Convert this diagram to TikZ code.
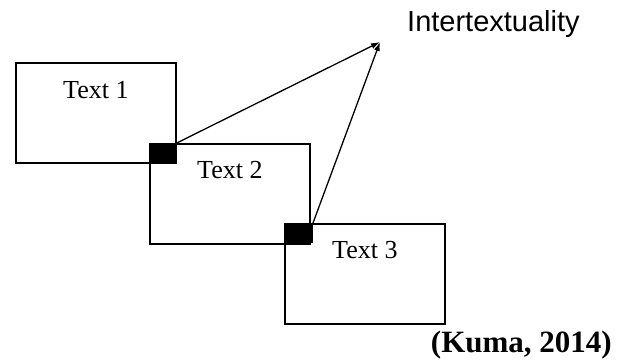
\documentclass[tikz,border=0pt]{standalone}
\usepackage{fontspec}
\setmainfont{Liberation Serif}
\newfontfamily\arialfont{Liberation Sans}
\usepackage{tikz}
\usetikzlibrary{calc, positioning, arrows.meta}

\tikzset{
    textbox/.style={draw, line width=1.8pt, minimum width=160pt, minimum height=100pt,
        inner sep=0pt, anchor=north west},
    joint/.style={fill=black, inner sep=0pt, minimum width=26pt, minimum height=20pt,
        anchor=north east},
    boxlabel/.style={anchor=base, font=\fontsize{26}{30}\selectfont}
}

\begin{document}
\begin{tikzpicture}[>={Latex[length=9pt, width=6pt]}, x=1pt, y=-1pt]
                \useasboundingbox (0,0) rectangle (623,361);

                % 1. Ba khung van ban
                \node[textbox] (b1) at (15,62) {};
                \node[textbox] (b2) at (149,143) {};
                \node[textbox] (b3) at (284,223) {};
                \node[boxlabel] (l1) at ($(b1.north)+(0,36)$) {Text 1};
                \node[boxlabel] (l2) at ($(b2.north)+(0,35)$) {Text 2};
                \node[boxlabel] (l3) at ($(b3.north)+(0,35)$) {Text 3};

                % 2. Cac o den o cho giao nhau
                \node[joint] (j1) at (b1.south east |- b2.north) {};
                \node[joint, minimum width=29pt] (j2) at ($(b3.north west)+(29,0)$) {};

                % 3. Muc tieu va mui ten
                \node[anchor=base west, inner sep=0pt, font=\arialfont\fontsize{29}{33}\selectfont] (inter) at (407,32) {Intertextuality};
                \coordinate (tip) at (380,42);
                \draw[->, line width=1.3pt] (j1.north east) -- (tip);
                \draw[->, line width=1.3pt] (j2.north east) -- (tip);

                % 4. Nguon
                \node[anchor=base east, inner sep=0pt, font=\bfseries\fontsize{31}{35}\selectfont] (src) at (612,352) {(Kuma, 2014)};
            \end{tikzpicture}
\end{document}
